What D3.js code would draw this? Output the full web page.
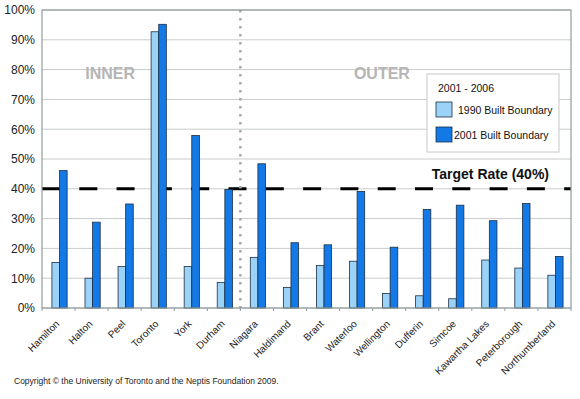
<!DOCTYPE html>
<html>
<head>
<meta charset="utf-8">
<script src="https://cdn.jsdelivr.net/npm/d3@7"></script>
<style>
  html, body { margin: 0; padding: 0; background: #fff; }
  svg { display: block; font-family: Helvetica, Arial, "Liberation Sans", sans-serif; }
</style>
</head>
<body>
<div id="chart"></div>
<script>
const REGIONS = ["Hamilton", "Halton", "Peel", "Toronto", "York", "Durham", "Niagara", "Haldimand",
  "Brant", "Waterloo", "Wellington", "Dufferin", "Simcoe", "Kawartha Lakes", "Peterborough", "Northumberland"];
const SERIES = ["1990 Built Boundary", "2001 Built Boundary"];
const BUILT_1990 = [15.3, 10.0, 13.9, 92.7, 13.9, 8.6, 17.0, 6.9, 14.3, 15.7, 4.9, 4.1, 3.1, 16.1, 13.4, 11.0];
const BUILT_2001 = [46.1, 28.8, 34.9, 95.2, 57.9, 39.8, 48.4, 21.9, 21.2, 39.1, 20.4, 33.1, 34.5, 29.3, 35.1, 17.3];
const Y_TICKS = [0, 10, 20, 30, 40, 50, 60, 70, 80, 90, 100];
const TARGET = 40;
const SPLIT_AFTER = "Durham";

(function () {
  const W = 580, H = 399;
  const M = { top: 10, right: 9, bottom: 91, left: 42 };
  const COLORS = ["#9bd3f8", "#1379e6"];

  const svg = d3.select("#chart").append("svg")
    .attr("width", W).attr("height", H);

  const x = d3.scaleBand().domain(REGIONS).range([M.left, W - M.right]);
  const x1 = d3.scaleBand().domain(SERIES)
    .range([x.bandwidth() * 0.3, x.bandwidth() * 0.76]);
  const y = d3.scaleLinear().domain([0, 100]).range([H - M.bottom, M.top]);

  // gridlines
  svg.append("g")
    .selectAll("line")
    .data(Y_TICKS)
    .join("line")
    .attr("x1", M.left).attr("x2", W - M.right)
    .attr("y1", d => y(d)).attr("y2", d => y(d))
    .attr("stroke", "#c8cccc").attr("stroke-width", 1);

  // y axis labels
  svg.append("g")
    .attr("transform", `translate(${M.left},0)`)
    .call(d3.axisLeft(y).tickValues(Y_TICKS).tickSize(0).tickPadding(7).tickFormat(d => d + "%"))
    .call(g => g.select(".domain").remove())
    .call(g => g.selectAll("text").attr("font-size", 12).attr("fill", "#222")
      .attr("font-family", "Helvetica, Arial, 'Liberation Sans', sans-serif"));

  // section labels
  const splitX = x(SPLIT_AFTER) + x.bandwidth();
  svg.append("text")
    .attr("x", x("Peel") + 2).attr("y", y(80) + 9)
    .attr("text-anchor", "middle").attr("font-size", 16).attr("font-weight", "bold")
    .attr("fill", "#b5b5b5").text("INNER");
  svg.append("text")
    .attr("x", x("Wellington") + x.bandwidth() * 0.28).attr("y", y(80) + 9)
    .attr("text-anchor", "middle").attr("font-size", 16).attr("font-weight", "bold")
    .attr("fill", "#b5b5b5").text("OUTER");

  // target line (behind bars)
  svg.append("line")
    .attr("x1", M.left).attr("x2", W - M.right)
    .attr("y1", y(TARGET)).attr("y2", y(TARGET))
    .attr("stroke", "#000").attr("stroke-width", 3)
    .attr("stroke-dasharray", "18,19.3");

  svg.append("text")
    .attr("x", W - M.right - 22).attr("y", y(TARGET) - 10)
    .attr("text-anchor", "end").attr("font-size", 14).attr("font-weight", "bold")
    .attr("fill", "#111").text("Target Rate (" + TARGET + "%)");

  // bars
  const groups = svg.append("g")
    .selectAll("g")
    .data(REGIONS.map((r, i) => ({ region: r, values: [BUILT_1990[i], BUILT_2001[i]] })))
    .join("g")
    .attr("transform", d => `translate(${x(d.region)},0)`);

  groups.selectAll("rect")
    .data(d => d.values.map((v, i) => ({ key: SERIES[i], v, i })))
    .join("rect")
    .attr("x", d => x1(d.key))
    .attr("width", x1.bandwidth())
    .attr("y", d => y(d.v))
    .attr("height", d => y(0) - y(d.v))
    .attr("fill", d => COLORS[d.i])
    .attr("stroke", "#1d2f44").attr("stroke-width", 0.8);

  // dotted split line
  svg.append("line")
    .attr("x1", splitX).attr("x2", splitX)
    .attr("y1", M.top).attr("y2", y(0))
    .attr("stroke", "#a8a8a8").attr("stroke-width", 2.5)
    .attr("stroke-dasharray", "2.5,5.5");

  // frame
  svg.append("rect")
    .attr("x", M.left).attr("y", M.top)
    .attr("width", W - M.left - M.right).attr("height", H - M.top - M.bottom)
    .attr("fill", "none").attr("stroke", "#8f9c9c").attr("stroke-width", 1.2);

  // bottom ticks between categories
  svg.append("g")
    .selectAll("line")
    .data(REGIONS.concat(["_end"]))
    .join("line")
    .attr("x1", (d, i) => M.left + i * x.step()).attr("x2", (d, i) => M.left + i * x.step())
    .attr("y1", y(0)).attr("y2", y(0) + 3)
    .attr("stroke", "#8f9c9c");

  // category labels
  svg.append("g")
    .selectAll("text")
    .data(REGIONS)
    .join("text")
    .attr("transform", d => `translate(${x(d) + x.bandwidth() / 2 - 1},${y(0) + 14}) rotate(-45)`)
    .attr("text-anchor", "end").attr("dy", "0.35em")
    .attr("font-size", 10).attr("fill", "#222")
    .text(d => d);

  // legend
  const lg = svg.append("g").attr("transform", "translate(427,74)");
  lg.append("rect").attr("width", 132).attr("height", 78)
    .attr("fill", "#fff").attr("stroke", "#c8c8c8");
  lg.append("text").attr("x", 11).attr("y", 18).attr("font-size", 10.5).attr("fill", "#111")
    .text("2001 - 2006");
  const items = lg.selectAll("g.item").data(SERIES).join("g")
    .attr("class", "item")
    .attr("transform", (d, i) => `translate(9,${28 + i * 25})`);
  items.append("rect").attr("width", 16).attr("height", 15)
    .attr("fill", (d, i) => COLORS[i]).attr("stroke", "#1d2f44").attr("stroke-width", 0.8);
  items.append("text").attr("x", (d, i) => i === 0 ? 22 : 18).attr("y", 12)
    .attr("font-size", 10.5).attr("fill", "#111").text(d => d);

  // copyright
  svg.append("text")
    .attr("x", 14).attr("y", 384)
    .attr("font-size", 8.5).attr("fill", "#222")
    .text("Copyright \u00a9 the University of Toronto and the Neptis Foundation 2009.");
})();
</script>
</body>
</html>
